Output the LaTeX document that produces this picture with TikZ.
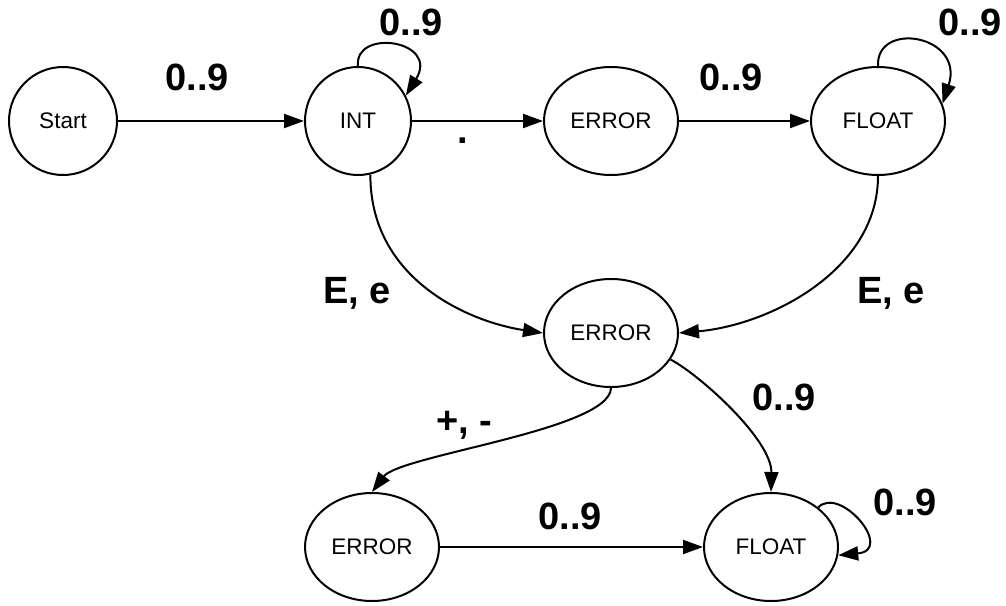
\documentclass[tikz,border=0pt]{standalone}
\usepackage{fontspec}
\setmainfont{Liberation Sans}
\usetikzlibrary{shapes.geometric,arrows.meta}
\begin{document}
\begin{tikzpicture}[x=1pt,y=-1pt,
  state/.style={draw=black,line width=2pt,ellipse,inner sep=0pt,minimum width=134pt,minimum height=108pt,font=\fontsize{22.5}{24}\selectfont},
  roundstate/.style={state,minimum width=108pt},
  lbl/.style={anchor=base,inner sep=0pt,font=\fontsize{38}{40}\selectfont\bfseries},
  tr/.style={line width=2pt,-{Triangle[length=20pt,width=14pt]}}]
\useasboundingbox[fill=white] (0,0) rectangle (1006,605);
\node[roundstate] (start) at (63,121) {Start};
\node[roundstate,minimum width=106pt] (int) at (358,121) {INT};
\node[state] (err1) at (611,121) {ERROR};
\node[state] (flt1) at (878,121) {FLOAT};
\node[state] (err2) at (611,333) {ERROR};
\node[state] (err3) at (372,547) {ERROR};
\node[state] (flt2) at (771,547) {FLOAT};
% straight transitions
\draw[tr] (start) -- (int);
\draw[tr] (int) -- (err1);
\draw[tr] (err1) -- (flt1);
\draw[tr] (err3) -- (flt2);
% loops
\draw[tr] (int.north) .. controls (354,28) and (440,40) .. (int.28);
\draw[tr] (flt1.north) .. controls (876,20) and (965,35) .. (flt1.15);
\draw[tr] (flt2.40) .. controls (840,485) and (895,550) .. (flt2.-7);
% curves
\draw[tr] (int.-77) .. controls (370,280) and (470,322) .. (err2.west);
\draw[tr] (flt1.south) .. controls (878,270) and (770,325) .. (err2.east);
\draw[tr] (err2.south) .. controls (610,430) and (400,455) .. (err3.north);
\draw[tr] (err2.-24) .. controls (700,375) and (772,440) .. (flt2.north);
% labels
\node[lbl] (l1) at (197,90) {0..9};
\node[lbl] (l2) at (411,35) {0..9};
\node[lbl] (l3) at (463,143) {.};
\node[lbl] (l4) at (731,90) {0..9};
\node[lbl] (l5) at (970,35) {0..9};
\node[lbl] (l6) at (357,303) {E, e};
\node[lbl] (l7) at (891,303) {E, e};
\node[lbl] (l8) at (464,433) {+, -};
\node[lbl] (l9) at (784,410) {0..9};
\node[lbl] (l10) at (570,529) {0..9};
\node[lbl] (l11) at (905,515) {0..9};
\end{tikzpicture}
\end{document}
